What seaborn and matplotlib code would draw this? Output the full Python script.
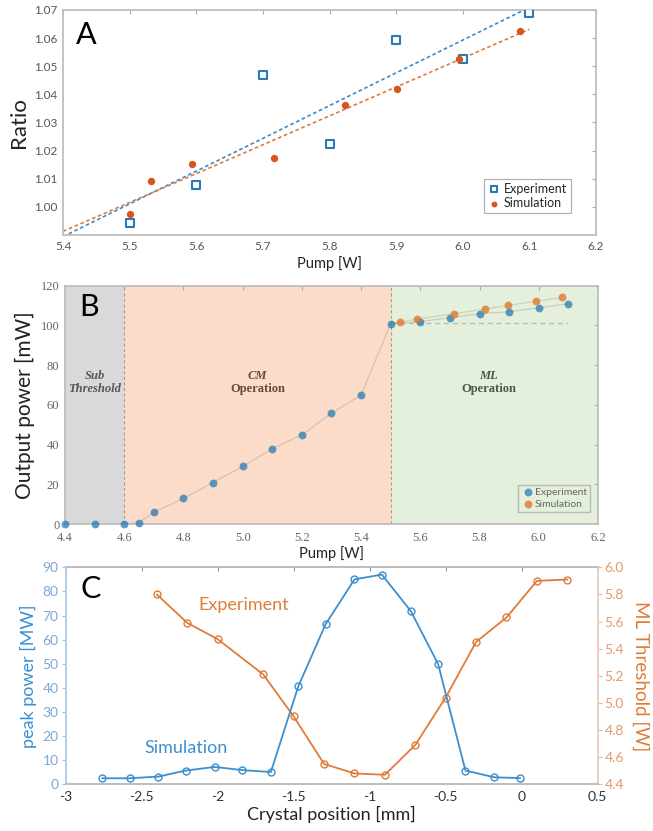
import numpy as np
import pandas as pd
import matplotlib
matplotlib.use("Agg")
import matplotlib.pyplot as plt
from matplotlib.ticker import FormatStrFormatter
import seaborn as sns

# ---------------- data ----------------
# Panel A: ratio vs pump
a_exp_pump = [5.5, 5.6, 5.7, 5.8, 5.9, 6.0, 6.1]
a_exp_ratio = [0.9944, 1.0076, 1.0468, 1.0224, 1.0594, 1.0524, 1.0690]
a_sim_pump = [5.500, 5.532, 5.593, 5.716, 5.824, 5.901, 5.994, 6.086]
a_sim_ratio = [0.9976, 1.0092, 1.0151, 1.0175, 1.0362, 1.0420, 1.0524, 1.0627]

# Panel B: output power vs pump
b_exp_pump = [4.4, 4.5, 4.6, 4.65, 4.7, 4.8, 4.9, 5.0, 5.1, 5.2, 5.3, 5.4,
              5.5, 5.6, 5.7, 5.8, 5.9, 6.0, 6.1]
b_exp_power = [0, 0, 0, 0.7, 5.9, 12.9, 20.9, 29.0, 37.9, 44.9, 55.8, 64.9,
               100.9, 101.9, 103.9, 105.9, 106.9, 108.9, 110.9]
b_sim_pump = [5.53, 5.59, 5.713, 5.82, 5.897, 5.99, 6.079]
b_sim_power = [101.7, 103.2, 105.9, 108.3, 110.1, 112.1, 114.1]
b_region_edges = [4.4, 4.6, 5.5, 6.2]
b_region_names = [("Sub", "Threshold"), ("CM", "Operation"), ("ML", "Operation")]
b_ml_level = 101.0

# Panel C: peak power (sim) and ML threshold (exp) vs crystal position
c_sim_pos = [-2.76, -2.58, -2.39, -2.21, -2.02, -1.84, -1.65, -1.47,
             -1.29, -1.10, -0.92, -0.73, -0.55, -0.37, -0.18, -0.01]
c_sim_peak = [2.5, 2.5, 3.2, 5.7, 7.2, 5.9, 5.1, 40.6,
              66.4, 85.0, 87.0, 71.9, 49.9, 5.7, 2.9, 2.6]
c_exp_pos = [-2.4, -2.2, -2.0, -1.7, -1.5, -1.3, -1.1, -0.9, -0.7, -0.5,
             -0.3, -0.1, 0.1, 0.3]
c_exp_thr = [5.80, 5.59, 5.47, 5.21, 4.90, 4.55, 4.48, 4.47, 4.69, 5.04,
             5.45, 5.63, 5.90, 5.91]

# ---------------- style ----------------
sns.set_theme(style="white")
plt.rcParams["font.family"] = ["Lato", "DejaVu Sans"]
plt.rcParams["axes.unicode_minus"] = False

fig = plt.figure(figsize=(6.53, 8.31), dpi=100)
axA = fig.add_axes([0.0965, 0.7172, 0.8162, 0.2708])
axB = fig.add_axes([0.0995, 0.3694, 0.8162, 0.2868])
axC = fig.add_axes([0.1006, 0.0562, 0.8147, 0.2611])

GRAYTXT = "#555555"
SPINE = "#bdbdbd"

# ---------------- Panel A ----------------
blueA = "#2a7ab8"
redA = "#d9531e"
dfAe = pd.DataFrame({"pump": a_exp_pump, "ratio": a_exp_ratio})
dfAs = pd.DataFrame({"pump": a_sim_pump, "ratio": a_sim_ratio})

for df, col in [(dfAe, "#3a8cc6"), (dfAs, "#e07b39")]:
    k, b = np.polyfit(df["pump"], df["ratio"], 1)
    xx = np.array([5.4, 6.1])
    fit = pd.DataFrame({"pump": xx, "ratio": k * xx + b})
    sns.lineplot(data=fit, x="pump", y="ratio", ax=axA, color=col, lw=1.2,
                 dashes=False, linestyle=(0, (2.2, 1.6)))

sns.scatterplot(data=dfAe, x="pump", y="ratio", ax=axA, marker="s", s=30,
                facecolor="white", edgecolor=blueA, linewidth=1.5,
                label="Experiment", zorder=4)
sns.scatterplot(data=dfAs, x="pump", y="ratio", ax=axA, marker="o", s=28,
                color=redA, edgecolor=redA, linewidth=0,
                label="Simulation", zorder=4)
axA.set_xlim(5.4, 6.2)
axA.set_ylim(0.99, 1.07)
axA.set_xticks(np.arange(5.4, 6.21, 0.1))
axA.set_yticks(np.arange(1.00, 1.0701, 0.01))
axA.xaxis.set_major_formatter(FormatStrFormatter("%.1f"))
axA.yaxis.set_major_formatter(FormatStrFormatter("%.2f"))
axA.tick_params(direction="in", top=True, right=True, length=3, width=0.8,
                color="#aaaaaa", labelsize=8.5, labelcolor=GRAYTXT, pad=4)
axA.set_xlabel("Pump [W]", fontsize=10.5, color="#222222", labelpad=3)
axA.set_ylabel("Ratio", fontsize=16, color="#222222", labelpad=4)
for s in axA.spines.values():
    s.set_color(SPINE)
axA.text(0.043, 0.89, "A", transform=axA.transAxes, fontsize=22,
         ha="center", va="center", color="black")
legA = axA.legend(loc="lower right", fontsize=9, frameon=True, fancybox=False,
                  edgecolor="#999999", handletextpad=0.3, borderpad=0.3,
                  labelspacing=0.2, handlelength=1.0, markerscale=0.8,
                  bbox_to_anchor=(0.965, 0.07))
legA.get_frame().set_linewidth(0.8)

# ---------------- Panel B ----------------
bg_cols = ["#d9d9d9", "#fbdcc8", "#e4f0dc"]
txt_cols = ["#555555", "#6b4a3a", "#4a5a4a"]
for i, (name, col) in enumerate(zip(b_region_names, bg_cols)):
    x0, x1 = b_region_edges[i], b_region_edges[i + 1]
    axB.axvspan(x0, x1, color=col, zorder=0, lw=0)
for xv in b_region_edges[1:3]:
    axB.axvline(xv, color="#a0a0a0", lw=0.8, ls=(0, (3, 2)), zorder=1)

text_x = [4.5, 5.05, 5.83]
for (top, bottom), xc, tc in zip(b_region_names, text_x, txt_cols):
    axB.text(xc, 74.6, top, ha="center", va="center", fontsize=9,
             family="Liberation Serif", fontweight="bold", style="italic", color=tc)
    axB.text(xc, 68.0, bottom, ha="center", va="center", fontsize=9,
             family="Liberation Serif", fontweight="bold",
             style="italic" if top == "Sub" else "normal", color=tc)

dfBe = pd.DataFrame({"pump": b_exp_pump, "power": b_exp_power})
dfBs = pd.DataFrame({"pump": b_sim_pump, "power": b_sim_power})
sns.lineplot(data=dfBe[dfBe["pump"] >= 4.6], x="pump", y="power", ax=axB,
             color="#b89a85", lw=0.9, alpha=0.45, zorder=2)
sns.lineplot(data=pd.concat([dfBe[dfBe["pump"] == 5.5], dfBs]), x="pump", y="power",
             ax=axB, color="#b0b8a0", lw=0.9, alpha=0.5, zorder=2)
axB.plot([5.5, 6.1], [b_ml_level, b_ml_level], color="#a9c2a9", lw=0.9,
         ls=(0, (4, 3)), zorder=2)
sns.scatterplot(data=dfBe, x="pump", y="power", ax=axB, color="#1f78b4",
                alpha=0.72, s=32, linewidth=0, label="Experiment", zorder=4,
                clip_on=False)
sns.scatterplot(data=dfBs, x="pump", y="power", ax=axB, color="#dd7a2e",
                alpha=0.8, s=32, linewidth=0, label="Simulation", zorder=4)
axB.set_xlim(4.4, 6.2)
axB.set_ylim(0, 120)
axB.set_xticks(np.arange(4.4, 6.21, 0.2))
axB.set_yticks(np.arange(0, 121, 20))
axB.xaxis.set_major_formatter(FormatStrFormatter("%.1f"))
axB.tick_params(direction="in", top=True, right=True, length=3, width=0.8,
                color="#aaaaaa", labelsize=9, labelcolor="#666666")
axB.tick_params(axis="x", pad=6)
axB.tick_params(axis="y", pad=4)
for lab in axB.get_xticklabels() + axB.get_yticklabels():
    lab.set_family("Liberation Serif")
axB.set_xlabel("Pump [W]", fontsize=10.5, color="#222222", labelpad=1)
axB.set_ylabel("Output power [mW]", fontsize=15, color="#222222", labelpad=4)
for s in axB.spines.values():
    s.set_color(SPINE)
axB.text(0.045, 0.91, "B", transform=axB.transAxes, fontsize=22,
         ha="center", va="center", color="black")
legB = axB.legend(loc="lower right", fontsize=7.5, frameon=True, fancybox=False,
                  facecolor="#e4f0dc", framealpha=0.9, edgecolor="#b5b5b5",
                  handletextpad=0.1, borderpad=0.3, labelspacing=0.2,
                  handlelength=1.2, bbox_to_anchor=(0.995, 0.03))
for t in legB.get_texts():
    t.set_color("#666666")

# ---------------- Panel C ----------------
blueC = "#3b8fd0"
orC = "#e07b3a"
axC2 = axC.twinx()
axC.set_zorder(axC2.get_zorder() + 1)
axC.patch.set_visible(False)

dfCs = pd.DataFrame({"pos": c_sim_pos, "peak": c_sim_peak})
dfCe = pd.DataFrame({"pos": c_exp_pos, "thr": c_exp_thr})
sns.lineplot(data=dfCs, x="pos", y="peak", ax=axC, color=blueC, lw=1.3,
             marker="o", markersize=5, markerfacecolor="none",
             markeredgecolor=blueC, markeredgewidth=1.0)
sns.lineplot(data=dfCe, x="pos", y="thr", ax=axC2, color=orC, lw=1.3,
             marker="o", markersize=5, markerfacecolor="none",
             markeredgecolor=orC, markeredgewidth=1.0)

axC.set_xlim(-3, 0.5)
axC.set_ylim(0, 90)
axC2.set_ylim(4.4, 6.0)
axC.set_xticks(np.arange(-3, 0.51, 0.5))
axC.set_xticklabels(["-3", "-2.5", "-2", "-1.5", "-1", "-0.5", "0", "0.5"])
axC.set_yticks(np.arange(0, 91, 10))
axC2.set_yticks(np.arange(4.4, 6.01, 0.2))
axC2.yaxis.set_major_formatter(FormatStrFormatter("%.1f"))
axC.tick_params(axis="x", direction="in", top=True, length=3, width=0.8,
                color="#999999", labelsize=10, labelcolor="#333333", pad=5)
axC.tick_params(axis="y", direction="out", length=3, width=0.8,
                color="#9dbde0", labelsize=10, labelcolor="#7ea6d6", pad=2)
axC2.tick_params(axis="y", direction="out", length=3, width=0.8,
                 color="#e8b898", labelsize=10, labelcolor="#e69a6a", pad=2)
axC.set_xlabel("Crystal position [mm]", fontsize=13, color="#222222", labelpad=2)
axC.set_ylabel("peak power [MW]", fontsize=13, color=blueC, labelpad=4)
axC2.set_ylabel("ML Threshold [W]", fontsize=13.5, color=orC, rotation=-90,
                va="center", ha="center")
axC2.yaxis.set_label_coords(1.08, 0.5)
for ax in (axC, axC2):
    ax.spines["top"].set_color(SPINE)
    ax.spines["bottom"].set_color(SPINE)
    ax.spines["left"].set_color("#b5cde8")
    ax.spines["right"].set_color("#ecd0bc")
axC.text(0.047, 0.90, "C", transform=axC.transAxes, fontsize=22,
         ha="center", va="center", color="black")
axC.text(-1.83, 74.4, "Experiment", fontsize=13, color=orC, ha="center", va="center")
axC.text(-2.21, 15.1, "Simulation", fontsize=13, color=blueC, ha="center", va="center")

fig.savefig("out.png", dpi=100)
